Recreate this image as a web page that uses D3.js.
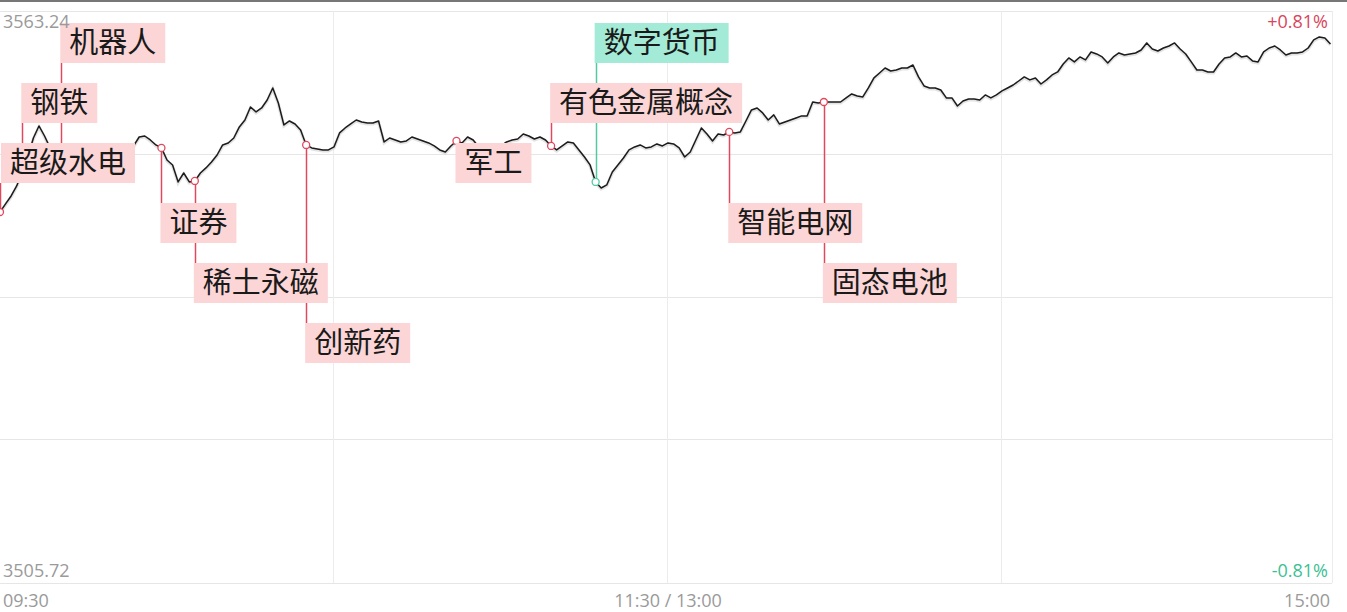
<!DOCTYPE html>
<html>
<head>
<meta charset="utf-8">
<script src="https://cdn.jsdelivr.net/npm/d3@7"></script>
<style>
html,body{margin:0;padding:0;background:#fff;}
svg{display:block;}
</style>
</head>
<body>
<svg id="chart" width="1347" height="612"></svg>
<script>
// ---- data ----
const prevClose = 3534.48;
const priceHigh = 3563.24;
const priceLow = 3505.72;
const pctLabels = ["+0.81%", "-0.81%"];
const timeTickMinutes = [0, 120, 240];
const timeTickLabels = ["09:30", "11:30 / 13:00", "15:00"];

// one value per minute (0 = 09:30)
const prices = [
3543.03,3543.84,3544.64,3545.65,3547.05,3548.56,3550.47,3551.68,3550.67,3549.47,
3548.96,3549.27,3548.46,3547.96,3548.26,3547.66,3548.46,3547.96,3548.66,3548.16,
3548.86,3548.36,3549.06,3549.27,3549.67,3550.57,3550.67,3550.27,3549.77,3549.47,
3548.26,3547.76,3546.05,3546.95,3546.05,3546.15,3546.95,3547.46,3548.06,3548.76,
3549.77,3549.97,3550.47,3551.58,3552.28,3553.59,3553.09,3553.49,3554.29,3555.50,
3553.99,3551.78,3552.18,3551.88,3551.28,3549.77,3549.47,3549.37,3549.27,3549.27,
3549.57,3550.98,3551.48,3551.88,3552.28,3552.08,3551.98,3551.98,3552.18,3550.07,
3550.47,3550.27,3550.07,3550.17,3550.57,3550.37,3550.17,3549.97,3549.67,3549.27,
3549.06,3549.67,3550.17,3549.97,3550.57,3550.27,3549.57,3549.17,3548.96,3549.27,
3549.67,3550.07,3550.27,3550.37,3550.87,3550.67,3550.37,3550.57,3550.27,3549.67,
3549.27,3549.67,3550.07,3549.97,3549.27,3548.56,3547.76,3546.05,3545.44,3545.75,
3547.05,3547.76,3548.46,3549.27,3549.57,3549.77,3549.47,3549.57,3549.87,3549.67,
3549.97,3549.87,3549.47,3548.56,3549.06,3550.27,3551.48,3550.87,3550.17,3550.87,
3550.77,3551.08,3550.98,3551.08,3552.18,3553.29,3553.49,3552.99,3552.28,3552.79,
3551.88,3552.08,3552.28,3552.48,3552.69,3552.69,3554.09,3553.99,3554.09,3554.09,
3554.09,3554.09,3554.50,3554.90,3554.70,3554.60,3555.50,3556.51,3557.01,3557.51,
3557.21,3557.31,3557.51,3557.51,3557.81,3556.61,3555.70,3555.50,3555.50,3555.30,
3554.50,3554.50,3553.69,3554.19,3554.39,3554.39,3554.29,3554.80,3554.50,3554.80,
3555.20,3555.50,3555.80,3556.20,3556.61,3556.31,3556.51,3555.90,3556.31,3556.81,
3557.11,3557.91,3558.52,3558.12,3558.62,3558.32,3559.12,3558.92,3558.62,3558.01,
3558.62,3559.02,3558.82,3558.92,3559.02,3559.32,3560.03,3559.42,3559.22,3559.52,
3559.72,3560.03,3559.42,3558.92,3558.12,3557.31,3557.31,3557.11,3557.11,3557.91,
3558.52,3558.62,3559.02,3558.62,3558.72,3558.22,3558.12,3559.12,3559.52,3559.72,
3559.32,3558.82,3559.02,3559.02,3559.12,3559.52,3560.33,3560.63,3560.53,3559.93
];

// annotations
const annoNames   = ["超级水电","钢铁","机器人","证券","稀土永磁","创新药","军工","有色金属概念","数字货币","智能电网","固态电池"];
const annoMinutes = [0, 4, 11, 29, 35, 55, 82, 99, 107, 131, 148];
const annoTiers   = [2, 1, 0, 3, 4, 5, 2, 1, 0, 3, 4];
const annoKinds   = ["up","up","up","up","up","up","up","up","down","up","up"];

// ---- layout ----
const W = 1347, H = 612;
const plot = {left: 0, right: 1332, top: 11, bottom: 583};
const svg = d3.select("#chart");

const x = d3.scaleLinear().domain([0, 240]).range([0, 1336]);
const y = d3.scaleLinear().domain([priceLow, priceHigh]).range([plot.bottom, plot.top]);

// top dark band
svg.append("rect").attr("x", 0).attr("y", 0).attr("width", W).attr("height", 2).attr("fill", "#777");

// grid
const grid = svg.append("g");
const hVals = d3.range(5).map(i => priceLow + (priceHigh - priceLow) * i / 4);
grid.selectAll("line.h").data(hVals).join("line")
  .attr("x1", plot.left).attr("x2", plot.right)
  .attr("y1", d => Math.floor(y(d)) + 0.5).attr("y2", d => Math.floor(y(d)) + 0.5)
  .attr("stroke", "#e6e6e6").attr("stroke-width", 1);
grid.selectAll("line.v").data([60, 120, 180]).join("line")
  .attr("x1", d => Math.floor(x(d)) - 0.5).attr("x2", d => Math.floor(x(d)) - 0.5)
  .attr("y1", plot.top).attr("y2", plot.bottom)
  .attr("stroke", "#ececec").attr("stroke-width", 1);
grid.append("line").attr("x1", plot.right + 0.5).attr("x2", plot.right + 0.5)
  .attr("y1", plot.top).attr("y2", plot.bottom).attr("stroke", "#ececec");

// price line
const line = d3.line().x((d, i) => x(i)).y(d => y(d));
svg.append("path").datum(prices)
  .attr("d", line).attr("fill", "none")
  .attr("stroke", "#c8c8c8").attr("stroke-width", 3.2).attr("opacity", 0.5)
  .attr("transform", "translate(0,1)");
svg.append("path").datum(prices)
  .attr("d", line).attr("fill", "none")
  .attr("stroke", "#1c1c1c").attr("stroke-width", 1.5).attr("stroke-linejoin", "round");

// annotations
const annos = annoNames.map((n, i) => ({
  name: n, minute: annoMinutes[i], tier: annoTiers[i], kind: annoKinds[i]
}));
const fontSize = 29, padX = 9, boxH = 40;
const colors = {
  up:   {fill: "#fcd6d6", stroke: "#e0485e"},
  down: {fill: "#a3ebd6", stroke: "#52c9a2"}
};
annos.forEach(a => {
  a.mx = x(a.minute);
  a.my = y(prices[a.minute]);
  a.boxTop = 23 + a.tier * 60;
  a.boxBottom = a.boxTop + boxH;
  a.boxLeft = Math.max(1, a.mx - 1);
  a.boxW = a.name.length * fontSize + padX * 2;
});

const ag = svg.append("g");
// connectors
ag.selectAll("line.c").data(annos).join("line")
  .attr("x1", d => Math.round(d.mx) + 0.5).attr("x2", d => Math.round(d.mx) + 0.5)
  .attr("y1", d => d.boxBottom < d.my ? d.boxBottom : d.my)
  .attr("y2", d => d.boxBottom < d.my ? d.my : d.boxTop)
  .attr("stroke", d => colors[d.kind].stroke).attr("stroke-width", 1.5);
// markers
ag.selectAll("circle").data(annos).join("circle")
  .attr("cx", d => d.mx).attr("cy", d => d.my).attr("r", 3.5)
  .attr("fill", "#fff").attr("stroke", d => colors[d.kind].stroke).attr("stroke-width", 1.3);
// boxes
ag.selectAll("rect.box").data(annos).join("rect")
  .attr("x", d => d.boxLeft).attr("y", d => d.boxTop)
  .attr("width", d => d.boxW).attr("height", boxH)
  .attr("fill", d => colors[d.kind].fill);
ag.selectAll("text.lab").data(annos).join("text")
  .attr("x", d => d.boxLeft + padX).attr("y", d => d.boxTop + boxH / 2)
  .attr("dy", "0.36em")
  .attr("font-family", "'Noto Sans CJK SC', sans-serif")
  .attr("font-size", fontSize).attr("fill", "#1a1a1a")
  .text(d => d.name);

// axis labels
const fmt = d3.format(".2f");
const lab = svg.append("g").attr("font-family", "'Open Sans', sans-serif").attr("font-size", 18);
lab.append("text").attr("x", 3).attr("y", y(priceHigh) + 17).attr("fill", "#9a9a9a").text(fmt(priceHigh));
lab.append("text").attr("x", 3).attr("y", y(priceLow) - 6).attr("fill", "#9a9a9a").text(fmt(priceLow));
lab.append("text").attr("x", 1328).attr("y", y(priceHigh) + 17).attr("text-anchor", "end").attr("fill", "#d9455a").text(pctLabels[0]);
lab.append("text").attr("x", 1328).attr("y", y(priceLow) - 6).attr("text-anchor", "end").attr("fill", "#3dbf94").text(pctLabels[1]);

const anchors = ["start", "middle", "end"];
const offs = [3, 0, -6];
lab.selectAll("text.t").data(timeTickMinutes).join("text")
  .attr("x", (d, i) => x(d) + offs[i])
  .attr("y", 607)
  .attr("text-anchor", (d, i) => anchors[i])
  .attr("fill", "#9a9a9a")
  .text((d, i) => timeTickLabels[i]);
</script>
</body>
</html>
